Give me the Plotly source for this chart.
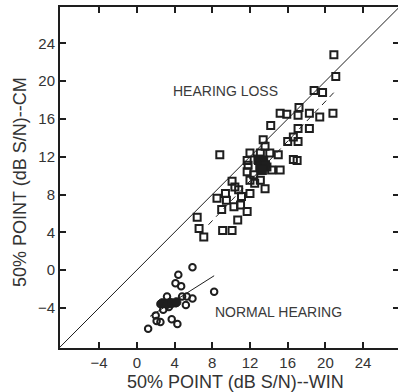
import plotly.graph_objects as go

# Hearing-loss listeners (open squares): 50% point WIN vs CM (dB S/N)
hl_win = [20.9, 21.1, 18.8, 19.7, 20.8, 19.4, 18.3, 17.2, 17.1, 15.2, 15.9, 14.2, 17.1, 18.3,
          16.0, 16.6, 17.1, 16.6, 17.0, 8.8, 13.4, 13.6, 12.0, 13.1, 14.1, 15.0, 11.7, 11.8,
          12.9, 13.4, 13.8, 13.1, 14.3, 15.2, 11.7, 12.0, 13.1, 13.6, 12.5, 10.1, 10.4, 10.8,
          8.5, 9.4, 9.5, 11.1, 11.0, 11.7, 9.0, 10.3, 10.7, 9.1, 10.1, 6.4, 6.6, 7.1, 12.0, 12.4]
hl_cm = [22.8, 20.5, 19.0, 18.8, 16.6, 16.2, 16.6, 17.2, 16.4, 16.6, 16.5, 15.3, 15.0, 15.0,
         13.6, 14.1, 13.6, 11.7, 11.6, 12.2, 13.8, 13.1, 12.4, 12.4, 12.4, 12.2, 11.6, 11.1,
         11.6, 11.3, 10.9, 10.8, 10.6, 10.6, 10.4, 9.5, 9.5, 8.6, 9.2, 9.4, 8.8, 8.5,
         7.6, 8.1, 7.4, 7.8, 6.9, 6.2, 6.4, 6.7, 5.3, 4.2, 4.2, 5.6, 4.4, 3.5, 8.1, 10.1]
# dense (filled) centre of the hearing-loss cluster
hl_centre_win = [12.9, 13.4, 13.1, 13.6, 13.3]
hl_centre_cm = [11.7, 11.6, 11.0, 11.1, 10.6]

# Normal-hearing listeners (open circles)
nh_win = [5.9, 4.4, 4.1, 4.7, 8.2, 3.2, 4.8, 5.3, 5.9, 5.2, 2.8, 2.5, 2.8, 2.0, 2.1, 2.5,
          1.2, 3.7, 4.3, 3.5, 4.1, 3.4]
nh_cm = [0.3, -0.5, -1.4, -1.7, -2.3, -2.8, -2.8, -2.8, -3.0, -3.7, -3.5, -3.6, -4.2, -4.8,
         -5.4, -5.5, -6.2, -5.2, -5.7, -3.4, -3.5, -3.9]
nh_centre_win = [2.7, 3.2, 3.7, 4.2]
nh_centre_cm = [-3.5, -3.6, -3.5, -3.4]

# Reference diagonal (WIN = CM) and regression lines
diag = [-9, 29]
hl_fit_win = [7.6, 20.9]
hl_fit_cm = [4.8, 18.8]
nh_fit_win = [1.4, 8.2]
nh_fit_cm = [-4.9, -0.6]

ticks = [-4, 0, 4, 8, 12, 16, 20, 24]
x_range = [-8.15, 27.7]
y_range = [-8.25, 27.85]

ink = "#1e1e1e"
txt = "#333333"
font = "Liberation Sans, Arial, sans-serif"

fig = go.Figure()
fig.add_trace(go.Scatter(x=diag, y=diag, mode="lines", line=dict(color=ink, width=1), hoverinfo="skip"))
fig.add_trace(go.Scatter(x=hl_fit_win, y=hl_fit_cm, mode="lines",
                         line=dict(color=ink, width=1, dash="6px,5px"), hoverinfo="skip"))
fig.add_trace(go.Scatter(x=nh_fit_win, y=nh_fit_cm, mode="lines",
                         line=dict(color=ink, width=1), hoverinfo="skip"))
fig.add_trace(go.Scatter(x=hl_win, y=hl_cm, mode="markers",
                         marker=dict(symbol="square-open", size=7, color=ink, line=dict(width=2, color=ink))))
fig.add_trace(go.Scatter(x=hl_centre_win, y=hl_centre_cm, mode="markers",
                         marker=dict(symbol="square", size=9, color=ink, line=dict(width=1, color=ink))))
fig.add_trace(go.Scatter(x=nh_win, y=nh_cm, mode="markers",
                         marker=dict(symbol="circle-open", size=6.5, color=ink, line=dict(width=2, color=ink))))
fig.add_trace(go.Scatter(x=nh_centre_win, y=nh_centre_cm, mode="markers",
                         marker=dict(symbol="circle", size=9, color=ink, line=dict(width=1, color=ink))))
# invisible trace to carry the right-hand tick axis
fig.add_trace(go.Scatter(x=diag, y=diag, yaxis="y2", mode="lines", line=dict(width=0),
                         showlegend=False, hoverinfo="skip"))

fig.add_annotation(x=9.4, y=18.95, text="HEARING LOSS", showarrow=False,
                   font=dict(family=font, size=14, color="#3a3a3a"))
fig.add_annotation(x=15.0, y=-4.4, text="NORMAL HEARING", showarrow=False,
                   font=dict(family=font, size=14, color="#3a3a3a"))
# axis titles
fig.add_annotation(xref="paper", yref="paper", x=0.52, y=-0.10, xanchor="center", yanchor="middle",
                   text="50% POINT (dB S/N)--WIN", showarrow=False,
                   font=dict(family=font, size=18, color=txt))
fig.add_annotation(xref="paper", yref="paper", x=-0.118, y=0.487, xanchor="center", yanchor="middle",
                   text="50% POINT (dB S/N)--CM", textangle=-90, showarrow=False,
                   font=dict(family=font, size=18, color=txt))

axis_common = dict(tickvals=ticks, ticks="inside", ticklen=6, tickwidth=2, tickcolor=ink,
                   showgrid=False, zeroline=False, linecolor=ink, linewidth=2, automargin=False,
                   tickfont=dict(family=font, size=15, color=txt))

fig.update_layout(
    width=398, height=392,
    margin=dict(l=60, r=0, t=7, b=44),
    paper_bgcolor="white", plot_bgcolor="white",
    showlegend=False,
    xaxis=dict(range=x_range, showline=True, mirror="ticks", **axis_common),
    yaxis=dict(range=y_range, showline=True, mirror=False, **axis_common),
    yaxis2=dict(range=y_range, overlaying="y", side="right", tickvals=ticks, ticks="inside",
                ticklen=5, tickwidth=2, tickcolor=ink, showticklabels=False, automargin=False,
                showgrid=False, zeroline=False, showline=False),
)

fig.write_html("out.html", config={"displayModeBar": False, "staticPlot": True},
               post_script="document.body.style.margin='0px';document.body.style.overflow='hidden';")
